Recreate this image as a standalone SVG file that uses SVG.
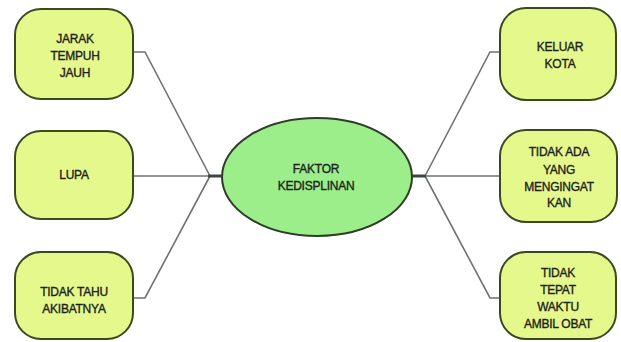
<svg xmlns="http://www.w3.org/2000/svg" width="621" height="342" viewBox="0 0 621 342">
<style>
.box{fill:#e4f88c;stroke:#3d4820;stroke-width:2}
.ell{fill:#9bee8a;stroke:#2f3d28;stroke-width:2}
.ln{fill:none;stroke:#6f7272;stroke-width:1.6}
.hub{fill:none;stroke:#3e4444;stroke-width:3}
text{font-family:"Liberation Sans",Arial,sans-serif;font-size:12px;fill:#1e1e1e;text-anchor:middle;letter-spacing:-0.25px;stroke:#1e1e1e;stroke-width:0.35}
</style>
<rect width="621" height="342" fill="#ffffff"/>
<g id="connectors">
<polyline class="ln" points="133,52 145,52 210,176"/>
<polyline class="ln" points="133,176 210,176"/>
<polyline class="ln" points="133,298 145,298 210,176"/>
<polyline class="ln" points="500,52 490,52 425,176"/>
<polyline class="ln" points="500,176 425,176"/>
<polyline class="ln" points="500,298 490,298 425,176"/>
<line class="hub" x1="208" y1="176" x2="223" y2="176"/>
<line class="hub" x1="411" y1="176" x2="426" y2="176"/>
</g>
<g id="center">
<ellipse class="ell" cx="317" cy="177" rx="95" ry="59"/>
<text x="316" y="173">FAKTOR</text>
<text x="316" y="190">KEDISPLINAN</text>
</g>
<g id="jarak">
<rect class="box" x="15" y="9" width="118" height="90" rx="26"/>
<text x="75" y="43">JARAK</text>
<text x="75" y="60">TEMPUH</text>
<text x="75" y="77">JAUH</text>
</g>
<g id="lupa">
<rect class="box" x="15" y="131" width="118" height="88" rx="26"/>
<text x="74" y="179">LUPA</text>
</g>
<g id="tidaktahu">
<rect class="box" x="15" y="252" width="118" height="87" rx="26"/>
<text x="74" y="296">TIDAK TAHU</text>
<text x="74" y="313">AKIBATNYA</text>
</g>
<g id="keluar">
<rect class="box" x="500" y="8" width="116" height="92" rx="26"/>
<text x="560" y="51">KELUAR</text>
<text x="560" y="68">KOTA</text>
</g>
<g id="tidakada">
<rect class="box" x="500" y="130" width="117" height="92" rx="26"/>
<text x="559" y="156">TIDAK ADA</text>
<text x="559" y="174">YANG</text>
<text x="559" y="191">MENGINGAT</text>
<text x="559" y="207">KAN</text>
</g>
<g id="tidaktepat">
<rect class="box" x="500" y="252" width="116" height="87" rx="26"/>
<text x="558" y="277">TIDAK</text>
<text x="558" y="294">TEPAT</text>
<text x="558" y="311">WAKTU</text>
<text x="558" y="328">AMBIL OBAT</text>
</g>
</svg>
